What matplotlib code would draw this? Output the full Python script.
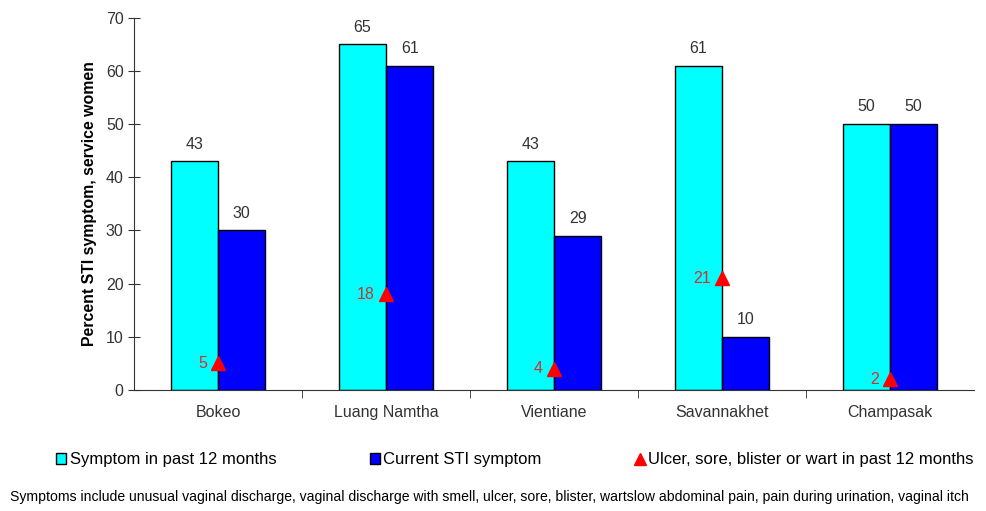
import numpy as np
import matplotlib.pyplot as plt
from matplotlib.lines import Line2D
from matplotlib.patches import Patch

# data
provinces   = ["Bokeo", "Luang Namtha", "Vientiane", "Savannakhet", "Champasak"]
past12      = [43, 65, 43, 61, 50]
current_sti = [30, 61, 29, 10, 50]
ulcer       = [5, 18, 4, 21, 2]

CYAN = "#00FFFF"
BLUE = "#0000FF"
RED  = "#FF0000"
RED_TXT = "#D03030"
GREY_TXT = "#333333"
FS = 11.5

plt.rcParams["font.family"] = ["Liberation Sans", "DejaVu Sans"]

fig = plt.figure(figsize=(9.86, 5.11), dpi=100)
ax = fig.add_axes([0.136, 0.237, 0.852, 0.728])

x = np.arange(len(provinces))
w = 0.28

ax.bar(x - w / 2, past12, w, color=CYAN, edgecolor="black", linewidth=1)
ax.bar(x + w / 2, current_sti, w, color=BLUE, edgecolor="black", linewidth=1)
ax.plot(x, ulcer, linestyle="none", marker="^", color=RED, markersize=10)

for xi, v in zip(x - w / 2, past12):
    ax.annotate(str(v), (xi, v), xytext=(0, 7), textcoords="offset points",
                ha="center", va="bottom", fontsize=FS, color=GREY_TXT)
for xi, v in zip(x + w / 2, current_sti):
    ax.annotate(str(v), (xi, v), xytext=(0, 7), textcoords="offset points",
                ha="center", va="bottom", fontsize=FS, color=GREY_TXT)
for xi, v in zip(x, ulcer):
    ax.annotate(str(v), (xi, v), xytext=(-8, 0), textcoords="offset points",
                ha="right", va="center", fontsize=FS, color=RED_TXT)

ax.set_xlim(-0.5, len(provinces) - 0.5)
ax.set_ylim(0, 70)
ax.set_yticks(range(0, 71, 10))
ax.set_xticks(x)
ax.set_xticklabels(provinces, fontsize=FS, color=GREY_TXT)
ax.set_xticks(np.arange(0.5, len(provinces) - 1, 1), minor=True)
ax.tick_params(axis="x", which="major", length=0, pad=11)
ax.tick_params(axis="x", which="minor", direction="out", length=6, color="#333333")
ax.tick_params(axis="y", direction="inout", length=8, labelsize=FS, labelcolor=GREY_TXT, color="#333333")
for s in ["top", "right"]:
    ax.spines[s].set_visible(False)
for s in ["left", "bottom"]:
    ax.spines[s].set_color("#333333")

ax.set_ylabel("Percent STI symptom, service women", fontsize=11.4, fontweight="bold", labelpad=6)

handles = [
    Patch(facecolor=CYAN, edgecolor="black", linewidth=1),
    Patch(facecolor=BLUE, edgecolor="black", linewidth=1),
    Line2D([], [], linestyle="none", marker="^", color=RED, markersize=9),
]
labels = ["Symptom in past 12 months", "Current STI symptom",
          "Ulcer, sore, blister or wart in past 12 months"]
fig.legend(handles, labels, loc="center left", bbox_to_anchor=(0.042, 0.1), ncol=3,
           frameon=False, fontsize=12, handlelength=0.6, handleheight=0.6,
           handletextpad=0.2, columnspacing=5.6)

fig.text(0.01, 0.027, "Symptoms include unusual vaginal discharge, vaginal discharge with smell, ulcer, sore, "
         "blister, wartslow abdominal pain, pain during urination, vaginal itch",
         fontsize=10.1, ha="left", va="center")

fig.savefig("out.png", dpi=100)
